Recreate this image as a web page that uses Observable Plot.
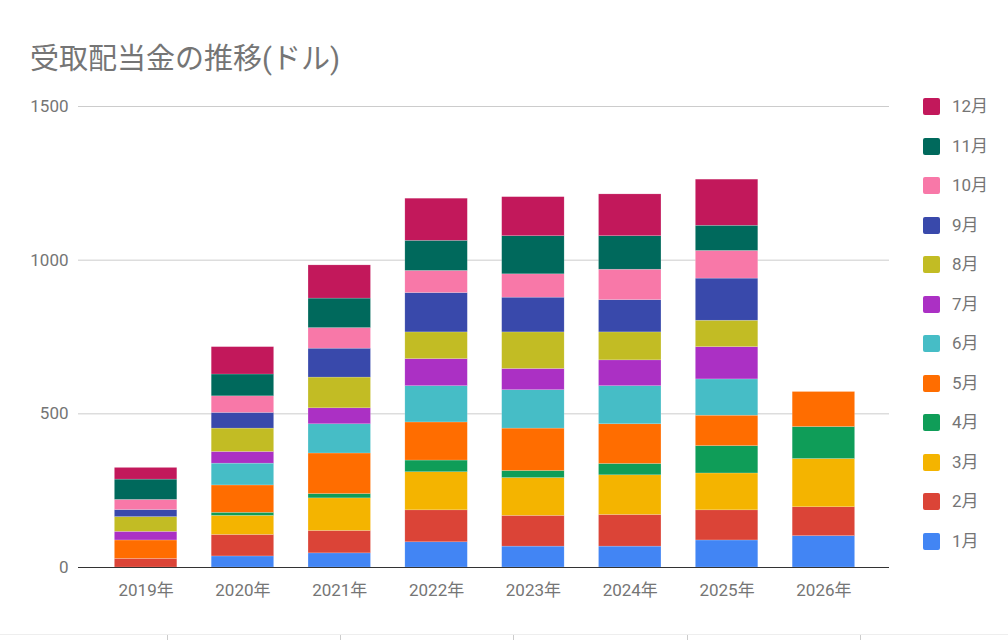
<!DOCTYPE html>
<html>
<head>
<meta charset="utf-8">
<script src="https://cdn.jsdelivr.net/npm/d3@7"></script>
<script src="https://cdn.jsdelivr.net/npm/@observablehq/plot@0.6"></script>
<style>
  html, body { margin: 0; padding: 0; background: #fff; }
  body { width: 1008px; height: 640px; overflow: hidden; position: relative;
         font-family: Roboto, "Noto Sans CJK JP", sans-serif; }
  #title { position: absolute; left: 30px; top: 35px; font-size: 29px; color: #757575;
           font-family: Roboto, "Noto Sans CJK JP", sans-serif; white-space: nowrap; }
  #chart { position: absolute; left: 0; top: 0; }
  #legend { position: absolute; left: 923px; top: 0; }
  .item { position: absolute; left: 0; height: 20px; white-space: nowrap; }
  .sw { position: absolute; left: 0; top: 1px; width: 17px; height: 17px; border-radius: 2px; }
  .lb { position: absolute; left: 29px; top: -1px; font-size: 17px; color: #757575; line-height: 20px; }
  #footer { position: absolute; left: 0; top: 634px; width: 1008px; height: 6px; border-top: 1px solid #eeeeee; }
  .tk { position: absolute; top: 0; width: 1px; height: 6px; background: #cccccc; }
</style>
</head>
<body>
<div id="chart"></div>
<div id="title">受取配当金の推移(ドル)</div>
<div id="legend"></div>
<div id="footer"></div>
<script>
const years = ["2019年", "2020年", "2021年", "2022年", "2023年", "2024年", "2025年", "2026年"];
const months = ["1月", "2月", "3月", "4月", "5月", "6月", "7月", "8月", "9月", "10月", "11月", "12月"];
const colors = ["#4285f4", "#db4437", "#f4b400", "#0f9d58", "#ff6d00", "#46bdc6",
                "#ab30c4", "#c2bc24", "#3949ab", "#f878a8", "#00695c", "#c2185b"];

// values per month, one entry per year (2019..2026)
const jan = [0, 36, 46, 82, 68, 68, 88, 102];
const feb = [28, 70, 73, 104, 100, 103, 98, 94];
const mar = [0, 62, 106, 124, 123, 129, 120, 157];
const apr = [0, 10, 14, 38, 23, 37, 89, 104];
const may = [60, 89, 132, 124, 138, 129, 99, 114];
const jun = [0, 71, 95, 118, 125, 124, 118, 0];
const jul = [28, 38, 52, 88, 69, 84, 105, 0];
const aug = [48, 76, 100, 87, 119, 91, 86, 0];
const sep = [23, 51, 94, 128, 113, 105, 137, 0];
const oct = [33, 54, 67, 72, 76, 99, 90, 0];
const nov = [66, 71, 96, 98, 124, 109, 82, 0];
const dec = [38, 89, 108, 137, 127, 136, 150, 0];

const yTicks = [0, 500, 1000, 1500];

const series = [jan, feb, mar, apr, may, jun, jul, aug, sep, oct, nov, dec];
const data = [];
years.forEach((yr, i) => {
  months.forEach((m, j) => {
    data.push({ year: yr, month: m, value: series[j][i] });
  });
});

const chart = Plot.plot({
  width: 1008,
  height: 640,
  marginTop: 106,
  marginBottom: 73,
  marginLeft: 80,
  marginRight: 119,
  style: { fontFamily: 'Roboto, "Noto Sans CJK JP", sans-serif', fontSize: "17px", color: "#757575", background: "transparent" },
  x: { domain: years, padding: 0.355, round: false, label: null, tickSize: 0, tickPadding: 16 },
  y: { domain: [0, 1500], ticks: yTicks, tickFormat: d => String(d), label: null, tickSize: 0, tickPadding: 12 },
  color: { domain: months, range: colors },
  marks: [
    Plot.ruleY(yTicks.filter(d => d > 0), { stroke: "#cccccc", strokeWidth: 1, strokeOpacity: 1, insetLeft: -2 }),
    Plot.barY(data, { x: "year", y: "value", fill: "month", stroke: "#ffffff", strokeOpacity: 0.35, strokeWidth: 0.5 }),
    Plot.ruleY([0], { stroke: "#333333", strokeWidth: 1.2, insetLeft: -2 })
  ]
});
document.getElementById("chart").appendChild(chart);

// legend
const legend = document.getElementById("legend");
const rev = months.map((m, j) => ({ m, c: colors[j] })).reverse();
rev.forEach((d, k) => {
  const it = document.createElement("div");
  it.className = "item";
  it.style.top = (97 + k * 39.5) + "px";
  const sw = document.createElement("div");
  sw.className = "sw";
  sw.style.background = d.c;
  const lb = document.createElement("div");
  lb.className = "lb";
  lb.textContent = d.m;
  it.appendChild(sw);
  it.appendChild(lb);
  legend.appendChild(it);
});

const footer = document.getElementById("footer");
[167, 340, 513, 687, 860].forEach(x => {
  const t = document.createElement("div");
  t.className = "tk";
  t.style.left = x + "px";
  footer.appendChild(t);
});
</script>
</body>
</html>
